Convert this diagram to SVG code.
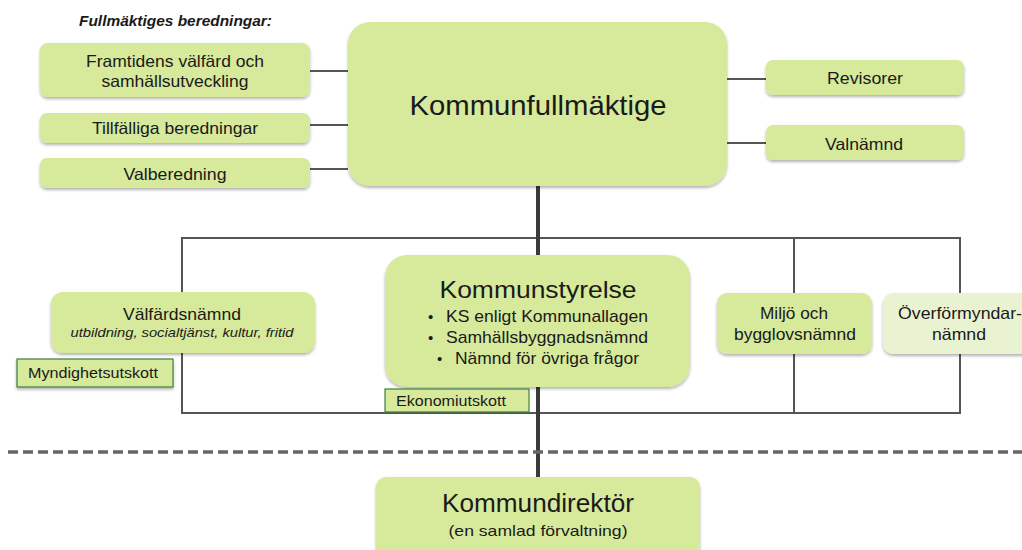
<svg xmlns="http://www.w3.org/2000/svg" width="1022" height="550" viewBox="0 0 1022 550">
<style>
text{font-family:"Liberation Sans",Arial,sans-serif;fill:#1a1a1a}
.box{fill:#d7e99b}
.light{fill:#eaf3d1}
.sub{fill:#d7e99b;stroke:#3f7f3a;stroke-width:1.2}
.c{text-anchor:middle}
.ln{stroke:#555;stroke-width:2;fill:none}
.main{stroke:#3a3a3a;stroke-width:4;fill:none}
</style>
<defs>
<filter id="sh" x="-10%" y="-10%" width="120%" height="130%">
<feDropShadow dx="0" dy="2" stdDeviation="1.8" flood-color="#000" flood-opacity="0.3"/>
</filter>
</defs>
<text x="79" y="26" font-size="14.5" font-weight="bold" font-style="italic" textLength="193" lengthAdjust="spacingAndGlyphs">Fullmäktiges beredningar:</text>
<g id="connectors">
<line class="ln" x1="310" y1="71" x2="348" y2="71"/>
<line class="ln" x1="310" y1="125" x2="348" y2="125"/>
<line class="ln" x1="310" y1="169" x2="348" y2="169"/>
<line class="ln" x1="727" y1="79" x2="766" y2="79"/>
<line class="ln" x1="727" y1="143" x2="766" y2="143"/>
<rect class="ln" x="182" y="238" width="778" height="175"/>
<line class="ln" x1="794" y1="238" x2="794" y2="413"/>
<line class="main" x1="538" y1="186" x2="538" y2="478"/>
<line x1="8" y1="452" x2="1022" y2="452" stroke="#666" stroke-width="3.5" stroke-dasharray="10,5"/>
</g>
<g id="kf"><rect class="box" filter="url(#sh)" x="348" y="22" width="379" height="164" rx="22"/>
<text class="c" x="538" y="115" font-size="28.5" textLength="257" lengthAdjust="spacingAndGlyphs">Kommunfullmäktige</text></g>
<g id="framtidens"><rect class="box" filter="url(#sh)" x="40" y="43" width="270" height="54" rx="8"/>
<text class="c" x="175" y="67" font-size="16.5" textLength="178" lengthAdjust="spacingAndGlyphs">Framtidens välfärd och</text>
<text class="c" x="175" y="87" font-size="16.5" textLength="147" lengthAdjust="spacingAndGlyphs">samhällsutveckling</text></g>
<g id="tillfalliga"><rect class="box" filter="url(#sh)" x="40" y="113" width="270" height="30" rx="7"/>
<text class="c" x="175" y="134" font-size="16.5" textLength="166" lengthAdjust="spacingAndGlyphs">Tillfälliga beredningar</text></g>
<g id="valberedning"><rect class="box" filter="url(#sh)" x="40" y="158" width="270" height="30" rx="7"/>
<text class="c" x="175" y="180" font-size="16.5" textLength="103" lengthAdjust="spacingAndGlyphs">Valberedning</text></g>
<g id="revisorer"><rect class="box" filter="url(#sh)" x="766" y="60" width="198" height="35" rx="7"/>
<text class="c" x="865" y="84" font-size="16.5" textLength="76" lengthAdjust="spacingAndGlyphs">Revisorer</text></g>
<g id="valnamnd"><rect class="box" filter="url(#sh)" x="766" y="125" width="198" height="35" rx="7"/>
<text class="c" x="864" y="150" font-size="16.5" textLength="78" lengthAdjust="spacingAndGlyphs">Valnämnd</text></g>
<g id="valfard"><rect class="box" filter="url(#sh)" x="51" y="292" width="264" height="61" rx="12"/>
<text class="c" x="182" y="320" font-size="17" textLength="118" lengthAdjust="spacingAndGlyphs">Välfärdsnämnd</text>
<text class="c" x="182" y="337" font-size="13.5" font-style="italic" textLength="223" lengthAdjust="spacingAndGlyphs">utbildning, socialtjänst, kultur, fritid</text></g>
<g id="myndighet"><rect class="sub" filter="url(#sh)" x="17" y="359" width="156" height="28"/>
<text x="28" y="378" font-size="15.5" textLength="130" lengthAdjust="spacingAndGlyphs">Myndighetsutskott</text></g>
<g id="ks"><rect class="box" filter="url(#sh)" x="385" y="255" width="305" height="132" rx="22"/>
<text class="c" x="538" y="298" font-size="24" textLength="197" lengthAdjust="spacingAndGlyphs">Kommunstyrelse</text>
<text x="428" y="322" font-size="15">•</text><text x="446" y="322" font-size="17" textLength="202" lengthAdjust="spacingAndGlyphs">KS enligt Kommunallagen</text>
<text x="428" y="343" font-size="15">•</text><text x="446" y="343" font-size="17" textLength="202" lengthAdjust="spacingAndGlyphs">Samhällsbyggnadsnämnd</text>
<text x="437" y="364" font-size="15">•</text><text x="455" y="364" font-size="17" textLength="184" lengthAdjust="spacingAndGlyphs">Nämnd för övriga frågor</text></g>
<g id="ekonomi"><rect class="sub" x="385" y="389" width="144" height="23"/>
<text x="396" y="406" font-size="15.5" textLength="110" lengthAdjust="spacingAndGlyphs">Ekonomiutskott</text></g>
<g id="miljo"><rect class="box" filter="url(#sh)" x="717" y="293" width="155" height="61" rx="10"/>
<text class="c" x="794" y="319" font-size="16.5" textLength="68" lengthAdjust="spacingAndGlyphs">Miljö och</text>
<text class="c" x="795" y="340" font-size="16.5" textLength="122" lengthAdjust="spacingAndGlyphs">bygglovsnämnd</text></g>
<g id="overformyndar"><rect class="light" filter="url(#sh)" x="883" y="293" width="150" height="61" rx="10"/>
<text class="c" x="960" y="319" font-size="16.5" textLength="124" lengthAdjust="spacingAndGlyphs">Överförmyndar-</text>
<text class="c" x="959" y="340" font-size="16.5" textLength="54" lengthAdjust="spacingAndGlyphs">nämnd</text></g>
<g id="kd"><rect class="box" filter="url(#sh)" x="376" y="477" width="324" height="85" rx="10"/>
<text class="c" x="538" y="512" font-size="25" textLength="192" lengthAdjust="spacingAndGlyphs">Kommundirektör</text>
<text class="c" x="538" y="536" font-size="15" textLength="179" lengthAdjust="spacingAndGlyphs">(en samlad förvaltning)</text></g>
</svg>
